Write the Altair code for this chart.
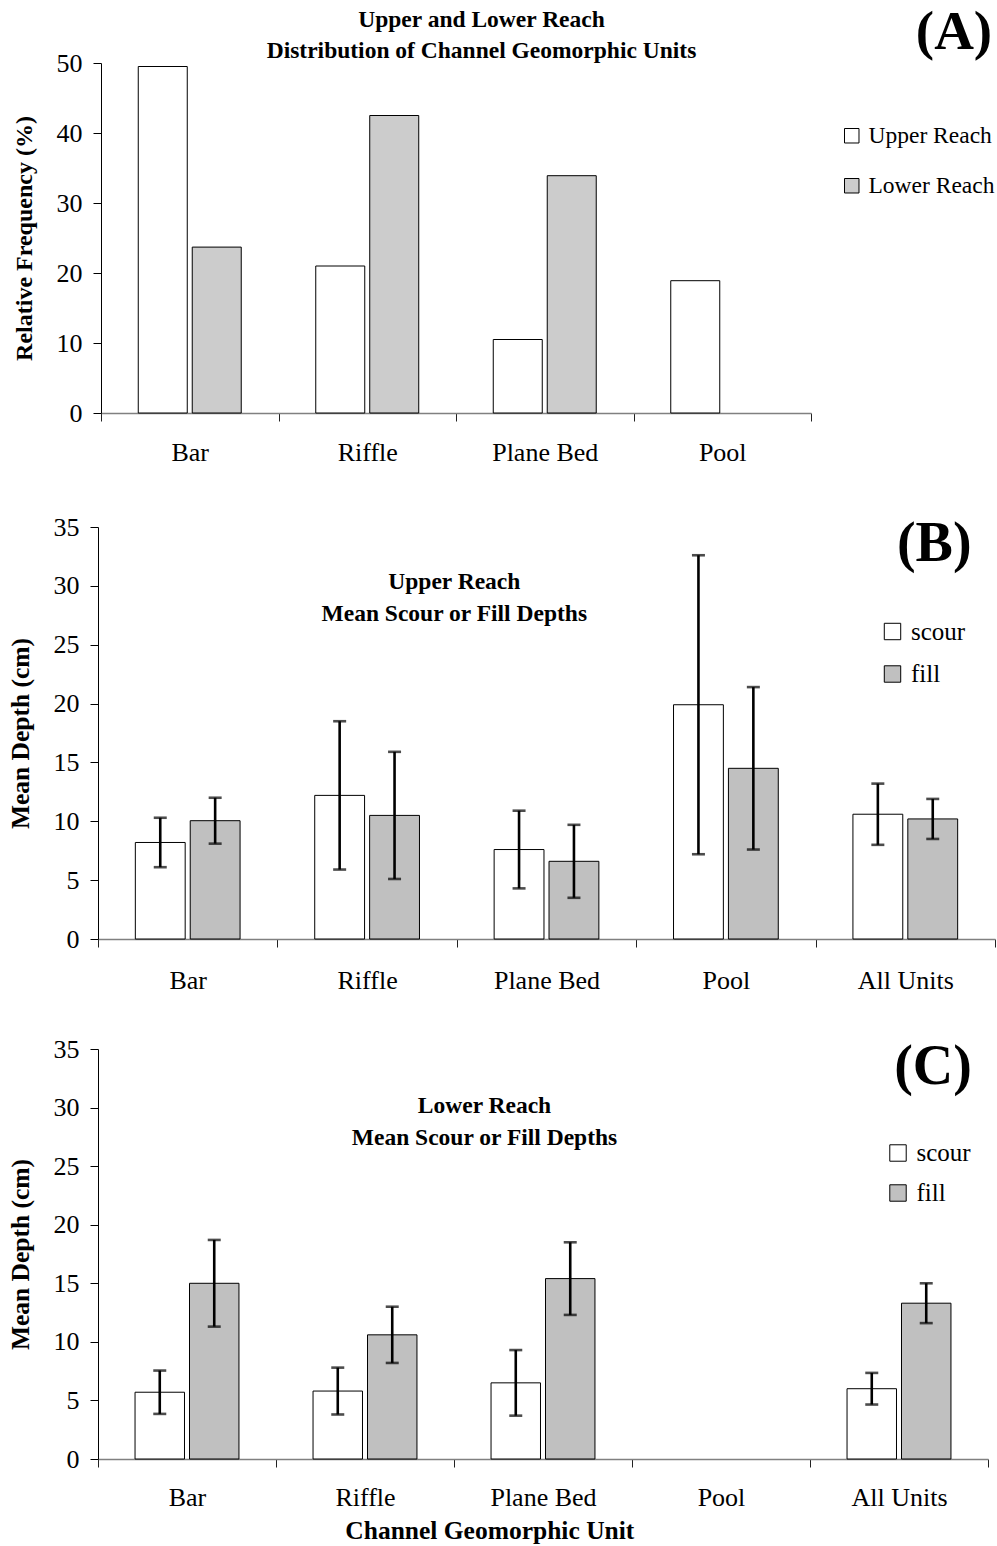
import altair as alt
import pandas as pd

FONT = "Liberation Serif"

# ---------------- data ----------------
units_a = ["Bar", "Riffle", "Plane Bed", "Pool"]
upper_reach = [49.5, 21.0, 10.5, 18.9]
lower_reach = [23.7, 42.5, 33.9, None]

units_bc = ["Bar", "Riffle", "Plane Bed", "Pool", "All Units"]
kinds = ["scour", "fill"]

upper_scour = [8.2, 12.2, 7.6, 19.9, 10.6]
upper_scour_sd = [2.1, 6.3, 3.3, 12.7, 2.6]
upper_fill = [10.05, 10.5, 6.6, 14.5, 10.2]
upper_fill_sd = [1.95, 5.4, 3.1, 6.9, 1.7]

lower_scour = [5.7, 5.8, 6.5, None, 6.0]
lower_scour_sd = [1.85, 2.0, 2.8, None, 1.35]
lower_fill = [15.0, 10.6, 15.4, None, 13.3]
lower_fill_sd = [3.7, 2.4, 3.1, None, 1.7]

df_a = pd.DataFrame({
    "unit": units_a * 2,
    "reach": ["Upper Reach"] * 4 + ["Lower Reach"] * 4,
    "value": upper_reach + lower_reach,
})


def depth_frame(scour, scour_sd, fill, fill_sd):
    return pd.DataFrame({
        "unit": units_bc * 2,
        "type": ["scour"] * 5 + ["fill"] * 5,
        "mean": scour + fill,
        "sd": scour_sd + fill_sd,
    })


df_b = depth_frame(upper_scour, upper_scour_sd, upper_fill, upper_fill_sd)
df_c = depth_frame(lower_scour, lower_scour_sd, lower_fill, lower_fill_sd)

one_row = alt.Data(values=[{"k": 0}])


def x_axis(label_pad, title=" ", title_size=6, title_x=None, title_y=None, bold=False):
    kw = dict(labelAngle=0, labelFont=FONT, labelFontSize=26, labelColor="black",
              labelPadding=label_pad, tickBand="extent", tickSize=8, tickColor="#222222",
              tickWidth=1, domainColor="#808080", domainWidth=1.3, grid=False,
              title=title, titleFont=FONT, titleFontSize=title_size, titleColor="black",
              titlePadding=0)
    if bold:
        kw.update(titleFontWeight="bold", titleX=title_x, titleY=title_y,
                  titleBaseline="alphabetic", titleAlign="center")
    return alt.Axis(**kw)


def y_axis(title, values, title_size, offset=0, title_pad=18):
    return alt.Axis(title=title, values=values, labelFont=FONT, labelFontSize=26,
                    labelColor="black", labelPadding=11, tickSize=8, tickColor="black",
                    domainColor="black", domainWidth=1, grid=False, offset=offset,
                    titleFont=FONT, titleFontSize=title_size, titleFontWeight="bold",
                    titleColor="black", titlePadding=title_pad)


def annotation(lines, x, y, size, line_height):
    return alt.Chart(one_row).mark_text(
        font=FONT, fontSize=size, fontWeight="bold", color="black",
        align="center", baseline="alphabetic", lineHeight=line_height,
    ).encode(x=alt.value(x), y=alt.value(y), text=alt.value(lines))


# ---------------- panel A ----------------
xa = alt.X("unit:N", sort=units_a,
           scale=alt.Scale(domain=units_a, range=[3, 713], paddingInner=0, paddingOuter=0),
           axis=x_axis(18))
xoa = alt.XOffset("reach:N", sort=["Upper Reach", "Lower Reach"],
                  scale=alt.Scale(domain=["Upper Reach", "Lower Reach"],
                                  paddingInner=0.0926, paddingOuter=0.69))
ya = alt.Y("value:Q", scale=alt.Scale(domain=[0, 50], nice=False),
           axis=y_axis("Relative Frequency (%)", [0, 10, 20, 30, 40, 50], 24,
                       offset=-3, title_pad=20))

bars_a = alt.Chart(df_a).mark_bar(stroke="black", strokeWidth=1).encode(
    x=xa, xOffset=xoa, y=ya,
    fill=alt.Fill("reach:N",
                  scale=alt.Scale(domain=["Upper Reach", "Lower Reach"],
                                  range=["white", "#cccccc"]),
                  legend=alt.Legend(title=None, orient="none", legendX=742, legendY=61,
                                    symbolType="square", symbolSize=210,
                                    symbolStrokeColor="black", symbolStrokeWidth=1,
                                    labelFont=FONT, labelFontSize=23.5, labelColor="black",
                                    labelOffset=5, rowPadding=25, padding=0)),
)

panel_a = alt.layer(
    bars_a,
    annotation(["Upper and Lower Reach", "Distribution of Channel Geomorphic Units"],
               383.5, -36, 23.5, 31),
    annotation("(A)", 856, -14.5, 55, 60),
).properties(width=713, height=350)


# ---------------- panels B and C ----------------
def depth_panel(df, width, height, legend_x, legend_y, row_pad, title_lines,
                title_x, title_y, title_lh, letter, letter_x, letter_y, xaxis):
    x = alt.X("unit:N", sort=units_bc,
              scale=alt.Scale(domain=units_bc, paddingInner=0, paddingOuter=0),
              axis=xaxis)
    xo = alt.XOffset("type:N", sort=kinds,
                     scale=alt.Scale(domain=kinds, paddingInner=0.092, paddingOuter=0.68))
    yscale = alt.Scale(domain=[0, 35], nice=False)
    yax = y_axis("Mean Depth (cm)", [0, 5, 10, 15, 20, 25, 30, 35], 25.5, title_pad=20)

    bars = alt.Chart(df).mark_bar(stroke="black", strokeWidth=1).encode(
        x=x, xOffset=xo,
        y=alt.Y("mean:Q", scale=yscale, axis=yax),
        fill=alt.Fill("type:N", scale=alt.Scale(domain=kinds, range=["white", "#c0c0c0"]),
                      legend=alt.Legend(title=None, orient="none", legendX=legend_x,
                                        legendY=legend_y, symbolType="square",
                                        symbolSize=270, symbolStrokeColor="black",
                                        symbolStrokeWidth=1, labelFont=FONT,
                                        labelFontSize=25, labelColor="black",
                                        labelOffset=6, rowPadding=row_pad, padding=0)),
    )
    err = alt.Chart(df).transform_filter("isValid(datum.sd)").transform_calculate(
        lo="datum.mean - datum.sd", hi="datum.mean + datum.sd")
    rule = err.mark_rule(color="black", strokeWidth=2.6).encode(
        x=x, xOffset=xo,
        y=alt.Y("lo:Q", scale=yscale, axis=yax), y2="hi:Q")
    cap_lo = err.mark_tick(color="black", thickness=2.6, size=13, orient="horizontal").encode(
        x=x, xOffset=xo, y=alt.Y("lo:Q", scale=yscale, axis=yax))
    cap_hi = err.mark_tick(color="black", thickness=2.6, size=13, orient="horizontal").encode(
        x=x, xOffset=xo, y=alt.Y("hi:Q", scale=yscale, axis=yax))

    return alt.layer(
        bars, rule, cap_lo, cap_hi,
        annotation(title_lines, title_x, title_y, 23.5, title_lh),
        annotation(letter, letter_x, letter_y, 56, 60),
    ).properties(width=width, height=height)


panel_b = depth_panel(df_b, 897, 412, 782, 92, 16.5,
                      ["Upper Reach", "Mean Scour or Fill Depths"], 356.3, 62, 32,
                      "(B)", 836.3, 33.5, x_axis(20, title=None))
panel_c = depth_panel(df_c, 890, 410, 787.5, 91.5, 14,
                      ["Lower Reach", "Mean Scour or Fill Depths"], 386.5, 64, 31.5,
                      "(C)", 835, 34.5,
                      x_axis(17.5, title="Channel Geomorphic Unit", title_size=25.5,
                             title_x=391.3, title_y=79, bold=True))

chart = alt.vconcat(panel_a, panel_b, panel_c, spacing=43).resolve_scale(
    x="independent", y="independent", fill="independent", xOffset="independent"
).resolve_legend(fill="independent").configure_view(stroke=None).properties(
    padding={"left": 8, "top": 4, "right": 0, "bottom": 0}, background="white"
)

chart.save("out.html", embed_options={"renderer": "svg", "actions": False})
